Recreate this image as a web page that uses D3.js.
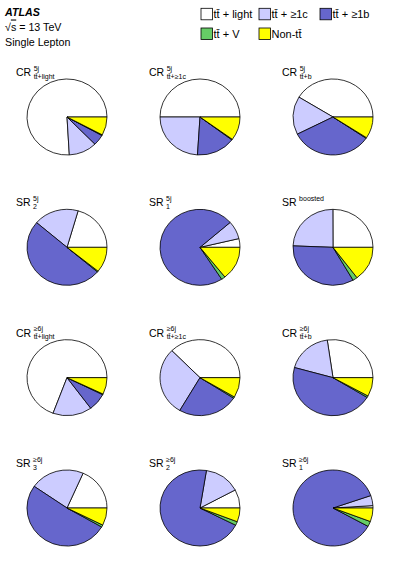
<!DOCTYPE html>
<html>
<head>
<meta charset="utf-8">
<script src="https://cdn.jsdelivr.net/npm/d3@7"></script>
<style>
  body { margin: 0; background: #fff; }
  text { font-family: "Liberation Sans", Arial, Helvetica, sans-serif; fill: #000; }
</style>
</head>
<body>
<script>
// ATLAS ttH(bb) single lepton: sample composition per region, as pies

var width = 399, height = 573;

// region labels
var regionMain = ["CR", "CR", "CR", "SR", "SR", "SR", "CR", "CR", "CR", "SR", "SR", "SR"];
var regionSup = ["5j", "5j", "5j", "5j", "5j", "boosted", "\u22656j", "\u22656j", "\u22656j", "\u22656j", "\u22656j", "\u22656j"];
var regionSub = ["tt\u0304+light", "tt\u0304+\u22651c", "tt\u0304+b", "2", "1", "",
  "tt\u0304+light", "tt\u0304+\u22651c", "tt\u0304+b", "3", "2", "1"];

// fractions (%) of each sample in each region
var fracLight = [76, 50, 41.4, 20.5, 3.7, 25, 69.4, 37.5, 27.3, 18.4, 7.9, 1.0];
var fracC = [11.4, 24, 16.3, 18.2, 7.7, 24.3, 15.8, 29.2, 18.4, 21.9, 14.6, 4.3];
var fracB = [4.6, 15.7, 33.2, 50, 72.9, 33.9, 7.5, 24.4, 45.6, 51.3, 70.3, 86.7];
var fracV = [0.3, 0.3, 0.3, 0.4, 1.6, 1.9, 0.3, 0.6, 0.7, 0.9, 1.6, 2.2];
var fracNonTT = [7.8, 10, 9.2, 10.8, 14.3, 14.7, 7.1, 8.5, 8, 7.4, 5.9, 5.8];

var samples = ["tt\u0304 + light", "tt\u0304 + \u22651c", "tt\u0304 + \u22651b", "tt\u0304 + V", "Non-tt\u0304"];
var sampleColors = ["#ffffff", "#ccccff", "#6666cc", "#66cc66", "#ffff00"];

var color = d3.scaleOrdinal().domain(samples).range(sampleColors);

var svg = d3.select("body").append("svg")
  .attr("width", width)
  .attr("height", height);

// header
svg.append("text").attr("x", 5).attr("y", 15.5)
  .style("font-size", "10.7px").style("font-weight", "bold").style("font-style", "italic")
  .text("ATLAS");
var rs = svg.append("text").attr("x", 5).attr("y", 30.5).style("font-size", "10.7px");
rs.append("tspan").text("\u221A");
rs.append("tspan").style("text-decoration", "overline").text("s");
rs.append("tspan").text(" = 13 TeV");
svg.append("text").attr("x", 5).attr("y", 45.5).style("font-size", "10.7px").text("Single Lepton");

// legend
var legX = d3.scaleOrdinal().domain(samples).range([201, 259, 320, 201, 259]);
var legY = d3.scaleOrdinal().domain(samples).range([8.3, 8.3, 8.3, 28, 28]);
var leg = svg.selectAll("g.leg").data(samples).enter().append("g")
  .attr("class", "leg")
  .attr("transform", function (d) { return "translate(" + legX(d) + "," + legY(d) + ")"; });
leg.append("rect")
  .attr("width", 11.5).attr("height", 11.5)
  .attr("fill", function (d) { return color(d); })
  .attr("stroke", "#000").attr("stroke-width", 0.8);
leg.append("text")
  .attr("x", 12.5).attr("y", 10)
  .style("font-size", "11px")
  .text(function (d) { return d; });

// grid of pies
var colX = d3.scaleLinear().domain([0, 2]).range([67, 333]);
var rowY = d3.scaleLinear().domain([0, 3]).range([117, 508]);
var rx = 40, ry = 38;

var pie = d3.pie().sort(null)
  .startAngle(Math.PI / 2)
  .endAngle(Math.PI / 2 - 2 * Math.PI);
var arc = d3.arc().innerRadius(0).outerRadius(1);

var regions = d3.range(regionMain.length);

var cells = svg.selectAll("g.cell").data(regions).enter().append("g")
  .attr("class", "cell")
  .attr("transform", function (i) {
    return "translate(" + colX(i % 3) + "," + rowY(Math.floor(i / 3)) + ")";
  });

cells.each(function (i) {
  var g = d3.select(this);
  var vals = [fracLight[i], fracC[i], fracB[i], fracV[i], fracNonTT[i]];
  var slices = pie(vals);

  g.append("g")
    .attr("transform", "scale(" + rx + "," + ry + ")")
    .selectAll("path").data(slices).enter().append("path")
    .attr("d", arc)
    .attr("fill", function (d, k) { return sampleColors[k]; })
    .attr("stroke", "#000")
    .attr("stroke-width", 0.8)
    .attr("vector-effect", "non-scaling-stroke");

  // region label: main text with super- and subscript
  var main = g.append("text")
    .attr("x", -51).attr("y", -41)
    .style("font-size", "10.5px")
    .text(regionMain[i]);
  var w = main.node().getComputedTextLength();
  g.append("text")
    .attr("x", -51 + w + 2.5).attr("y", -46.5)
    .style("font-size", "7px")
    .text(regionSup[i]);
  if (regionSub[i]) {
    g.append("text")
      .attr("x", -51 + w + 2.5).attr("y", -38.5)
      .style("font-size", "7px")
      .text(regionSub[i]);
  }
});
</script>
</body>
</html>
